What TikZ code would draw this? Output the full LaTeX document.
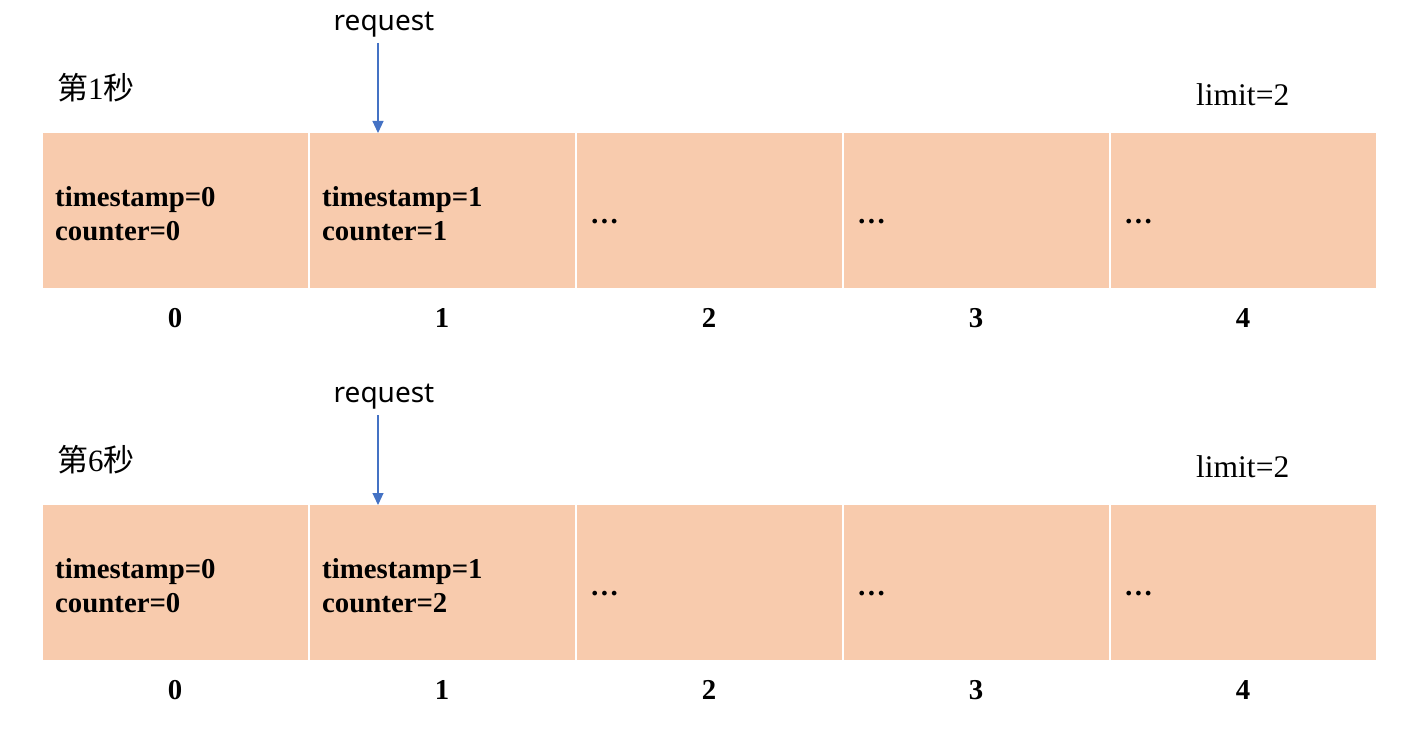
\documentclass[tikz,border=0pt]{standalone}
\usepackage{fontspec}
\setmainfont{Liberation Serif}
\newfontfamily\cjk{Noto Sans CJK SC}
\newfontfamily\reqfont{Noto Sans}
\usetikzlibrary{arrows.meta}
\definecolor{cellfill}{HTML}{F8CBAD}
\definecolor{arrowblue}{HTML}{4472C4}
\tikzset{
  cell/.style={fill=cellfill, draw=none, minimum width=265pt, minimum height=155pt, inner sep=0pt, anchor=north west},
  celltext/.style={anchor=west, align=left, font=\fontsize{28.8}{34}\selectfont\bfseries, inner sep=0pt},
  idx/.style={font=\fontsize{28.8}{34}\selectfont\bfseries, inner sep=0pt},
  title/.style={anchor=west, font=\fontsize{31}{36}\selectfont, inner sep=0pt},
  reqlabel/.style={font=\reqfont\fontsize{28}{34}\selectfont, inner sep=0pt},
  limitlabel/.style={anchor=west, font=\fontsize{31.5}{36}\selectfont, inner sep=0pt},
  reqarrow/.style={draw=arrowblue, line width=1.2pt, -{Triangle[length=12pt,width=11pt]}},
}
\begin{document}
\begin{tikzpicture}[x=1pt,y=-1pt]
\useasboundingbox (0,0) rectangle (1418,730);
\fill[white] (0,0) rectangle (1418,730);
\foreach \r/\dy/\sec/\cnt in {1/0/1/1, 2/372/6/2} {
  \foreach \i in {0,...,4} {
    \node[cell] (c\r\i) at ({43+267*\i}, {133+\dy}) {};
    \node[idx] (n\r\i) at ({175+267*\i}, {318+\dy}) {\i};
  }
  \node[celltext] (t\r0) at (55, {214+\dy}) {timestamp=0\\counter=0};
  \node[celltext] (t\r1) at (322, {214+\dy}) {timestamp=1\\counter=\cnt};
  \node[celltext] (t\r2) at (590, {222+\dy}) {\textbf{\dots}};
  \node[celltext] (t\r3) at (857, {222+\dy}) {\textbf{\dots}};
  \node[celltext] (t\r4) at (1124, {222+\dy}) {\textbf{\dots}};
  \node[title] (s\r) at (57, {88+\dy}) {{\cjk 第}\sec{\cjk 秒}};
  \node[limitlabel] (l\r) at (1196, {95+\dy}) {limit=2};
  \node[reqlabel] (q\r) at (384, {25+\dy}) {request};
  \coordinate (a\r) at (378, {43+\dy});
  \draw[reqarrow] (a\r) -- (a\r |- c\r1.north);
}
\end{tikzpicture}
\end{document}
